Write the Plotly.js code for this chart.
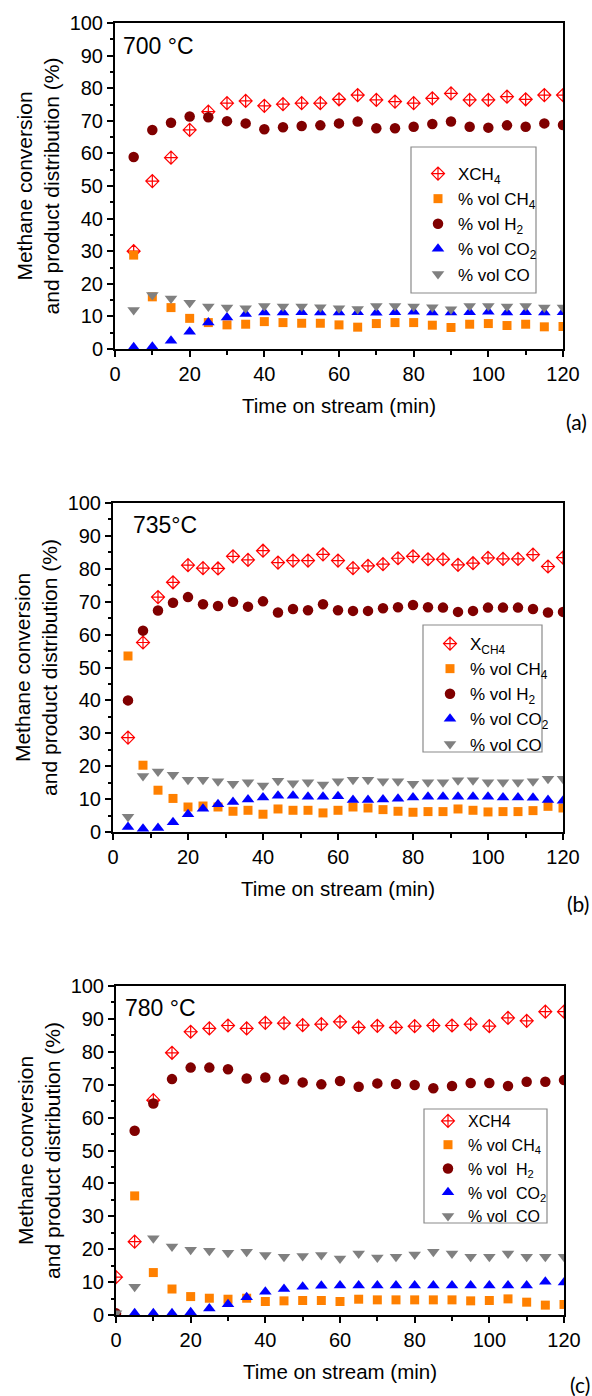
<!DOCTYPE html>
<html>
<head>
<meta charset="utf-8">
<script src="https://cdn.plot.ly/plotly-3.0.1.min.js"></script>
<style>html,body{margin:0;padding:0;background:#fff;}#chart{width:592px;height:1396px;}</style>
</head>
<body>
<div id="chart"></div>
<script>
// ---------- data ----------
const timeA = [5,10,15,20,25,30,35,40,45,50,55,60,65,70,75,80,85,90,95,100,105,110,115,120];
const xch4A = [30.0,51.5,58.7,67.2,72.8,75.4,76.1,74.6,75.1,75.4,75.4,76.6,77.9,76.4,75.9,75.4,76.9,78.4,76.4,76.4,77.4,76.6,77.9,77.9];
const ch4A  = [28.8,16.0,12.7,9.4,8.1,7.4,7.6,8.4,8.1,7.9,7.9,7.4,6.7,7.8,8.1,8.1,7.3,6.6,7.6,7.8,7.2,7.6,6.8,6.9];
const h2A   = [58.9,67.2,69.4,71.3,71.1,69.9,69.2,67.4,68.0,68.4,68.6,69.2,69.8,67.7,67.7,68.2,69.0,69.8,68.2,67.9,68.6,68.2,69.2,68.7];
const co2A  = [0.5,0.7,2.5,5.3,8.1,9.7,10.7,11.2,11.2,11.3,11.2,11.2,11.3,11.1,11.3,11.4,11.2,11.2,11.3,11.4,11.2,11.3,11.2,11.3];
const coA   = [12.0,16.6,15.5,14.2,13.0,12.7,12.5,13.2,13.0,13.0,12.8,12.5,12.3,13.2,13.2,13.0,12.8,12.2,13.2,13.2,13.0,13.2,12.7,12.7];

const timeB = [4,8,12,16,20,24,28,32,36,40,44,48,52,56,60,64,68,72,76,80,84,88,92,96,100,104,108,112,116,120];
const xch4B = [28.7,57.6,71.4,75.9,81.1,80.2,80.1,83.8,82.7,85.5,81.9,82.5,82.5,84.4,82.5,80.2,80.9,81.4,83.2,83.8,82.9,82.9,81.2,81.7,83.3,83.0,83.0,84.3,80.7,83.4];
const ch4B  = [53.5,20.3,12.7,10.2,7.6,7.9,7.6,6.3,6.6,5.4,7.0,6.6,6.6,5.8,6.6,7.6,7.3,6.8,6.3,6.0,6.2,6.2,7.0,6.6,6.1,6.2,6.2,6.5,7.8,7.3];
const h2B   = [40.0,61.2,67.3,69.7,71.4,69.2,68.7,70.0,68.5,70.1,66.7,67.8,67.4,69.2,67.4,67.2,67.2,68.0,68.3,69.0,68.3,68.2,66.9,67.2,68.2,68.2,68.2,67.8,66.7,66.9];
const co2B  = [1.5,1.0,1.2,3.0,5.4,7.1,8.4,9.1,9.9,10.5,11.0,11.0,10.7,10.7,10.9,9.7,9.7,9.9,10.1,10.5,10.7,10.7,10.7,10.7,10.7,10.5,10.5,10.4,9.7,9.5];
const coB   = [4.6,17.0,18.4,17.4,15.9,15.9,15.4,14.7,15.1,14.1,15.6,14.8,15.1,14.4,15.4,15.9,15.9,15.4,15.4,14.7,15.1,15.1,15.7,15.7,15.1,15.1,15.1,15.4,16.2,16.2];

const timeC = [0,5,10,15,20,25,30,35,40,45,50,55,60,65,70,75,80,85,90,95,100,105,110,115,120];
const xch4C = [11.5,22.3,65.3,79.7,86.1,87.1,88.0,87.1,88.8,88.7,88.1,88.4,89.1,87.4,87.9,87.4,87.8,88.0,88.0,88.4,87.8,90.3,89.4,92.2,92.2];
const ch4C  = [null,36.2,12.9,7.9,5.6,5.1,4.8,5.1,4.1,4.3,4.4,4.4,4.1,4.8,4.6,4.6,4.6,4.6,4.6,4.3,4.4,4.9,3.9,3.0,3.2];
const h2C   = [0.5,56.0,64.3,71.7,75.2,75.2,74.7,71.9,72.2,71.6,70.7,70.1,71.1,69.4,70.4,70.2,69.9,68.9,69.6,70.5,70.5,69.6,70.9,70.9,71.4];
const co2C  = [null,0.5,0.5,0.5,0.8,2.0,3.3,5.4,7.1,7.9,8.6,8.9,9.0,9.0,9.0,9.0,9.0,9.0,9.0,9.0,9.0,9.0,9.0,10.1,9.9];
const coC   = [0.5,8.6,23.3,20.8,19.8,19.5,18.9,19.2,18.2,17.7,17.9,18.2,17.2,18.7,17.5,17.7,18.4,19.2,18.7,17.7,17.7,18.7,17.7,17.7,17.7];

const tempLabels = ['700 °C', '735°C', '780 °C'];
const panelLabels = ['(a)', '(b)', '(c)'];
const legendNamesA = ['XCH<sub>4</sub>', '% vol CH<sub>4</sub>', '% vol H<sub>2</sub>', '% vol CO<sub>2</sub>', '% vol CO'];
const legendNamesB = ['X<sub>CH4</sub>', '% vol CH<sub>4</sub>', '% vol H<sub>2</sub>', '% vol CO<sub>2</sub>', '% vol CO'];
const legendNamesC = ['XCH4', '% vol CH<sub>4</sub>', '% vol  H<sub>2</sub>', '% vol  CO<sub>2</sub>', '% vol  CO'];
const xTitle = 'Time on stream (min)';
const yTitle = 'Methane conversion<br>and product distribution (%)';

// ---------- layout helpers ----------
const W = 592, H = 1396;
const px = x => x / W;
const py = y => 1 - y / H;
const FONT = 'Liberation Sans, Arial, sans-serif';

const panels = [
  {t: timeA, s: [xch4A, ch4A, h2A, co2A, coA], names: legendNamesA,
   box: [115, 563, 23, 349], leg: [411, 536, 147, 293], legTop: 156, legFont: 17, legX: 418},
  {t: timeB, s: [xch4B, ch4B, h2B, co2B, coB], names: legendNamesB,
   box: [113, 563, 503, 832], leg: [423, 542, 625, 752], legTop: 626, legFont: 17, legX: 430},
  {t: timeC, s: [xch4C, ch4C, h2C, co2C, coC], names: legendNamesC,
   box: [116, 564, 986, 1315], leg: [424, 547, 1109, 1223], legTop: 1104, legFont: 16, legX: 428}
];

const markerStyles = [
  {symbol: 'diamond-cross-open', size: 10, color: '#FF0000', line: {color: '#FF0000', width: 1.2}},
  {symbol: 'square', size: 9, color: '#FF8000', line: {width: 0}},
  {symbol: 'circle', size: 10.5, color: '#800000', line: {width: 0}},
  {symbol: 'triangle-up', size: 11, color: '#0000FF', line: {width: 0}},
  {symbol: 'triangle-down', size: 11, color: '#808080', line: {width: 0}}
];

const data = [];
const layout = {
  width: W, height: H,
  margin: {l: 0, r: 0, t: 0, b: 0},
  paper_bgcolor: '#fff', plot_bgcolor: '#fff',
  font: {family: FONT, color: '#000', size: 17},
  annotations: [], shapes: []
};

const tempPos = [[121, 46], [131, 525], [123, 1008]];
const labPos = [[576, 421], [578, 903], [580, 1384]];

panels.forEach((p, i) => {
  const n = i + 1;
  const xa = 'x' + (n === 1 ? '' : n), ya = 'y' + (n === 1 ? '' : n);
  const legId = 'legend' + (n === 1 ? '' : n);
  p.s.forEach((vals, k) => {
    data.push({
      type: 'scatter', mode: 'markers', x: p.t, y: vals, name: p.names[k],
      xaxis: xa, yaxis: ya, legend: legId, marker: markerStyles[k], showlegend: true
    });
  });
  const axCommon = {
    showline: true, linewidth: 2, linecolor: '#000', mirror: true,
    ticks: 'outside', ticklen: 6, tickwidth: 2, tickcolor: '#000',
    showgrid: false, zeroline: false, fixedrange: true,
    tickfont: {family: FONT, size: 20, color: '#000'}
  };
  layout['xaxis' + (n === 1 ? '' : n)] = Object.assign({}, axCommon, {
    domain: [px(p.box[0]), px(p.box[1])], anchor: ya, range: [0, 120], dtick: 20, tick0: 0,
    minor: {dtick: 10, ticklen: 3.5, tickwidth: 2, tickcolor: '#000', ticks: 'outside'},
    title: {text: xTitle, font: {family: FONT, size: 20.5, color: '#000'}, standoff: 15}
  });
  layout['yaxis' + (n === 1 ? '' : n)] = Object.assign({}, axCommon, {
    domain: [py(p.box[3]), py(p.box[2])], anchor: xa, range: [0, 100], dtick: 10, tick0: 0,
    minor: {dtick: 5, ticklen: 3.5, tickwidth: 2, tickcolor: '#000', ticks: 'outside'},
    title: {text: yTitle, font: {family: FONT, size: 21, color: '#000'}, standoff: 4}
  });
  layout[legId] = {
    x: px(p.legX), y: py(p.legTop), xanchor: 'left', yanchor: 'top',
    bgcolor: 'rgba(0,0,0,0)', borderwidth: 0,
    font: {family: FONT, size: p.legFont, color: '#000'}
  };
  layout.shapes.push({
    type: 'rect', xref: 'paper', yref: 'paper',
    x0: px(p.leg[0]), x1: px(p.leg[1]), y0: py(p.leg[3]), y1: py(p.leg[2]),
    line: {color: '#8a8a8a', width: 1.2}, fillcolor: 'rgba(0,0,0,0)'
  });
  layout.annotations.push({
    text: tempLabels[i], xref: 'paper', yref: 'paper',
    x: px(tempPos[i][0]), y: py(tempPos[i][1]), xanchor: 'left', yanchor: 'middle',
    showarrow: false, font: {family: FONT, size: 23, color: '#000'}
  });
  layout.annotations.push({
    text: panelLabels[i], xref: 'paper', yref: 'paper',
    x: px(labPos[i][0]), y: py(labPos[i][1]), xanchor: 'center', yanchor: 'middle',
    showarrow: false, font: {family: 'Lato, Open Sans, sans-serif', size: 21, color: '#000'}
  });
});

Plotly.newPlot('chart', data, layout, {displayModeBar: false, staticPlot: true});
</script>
</body>
</html>
